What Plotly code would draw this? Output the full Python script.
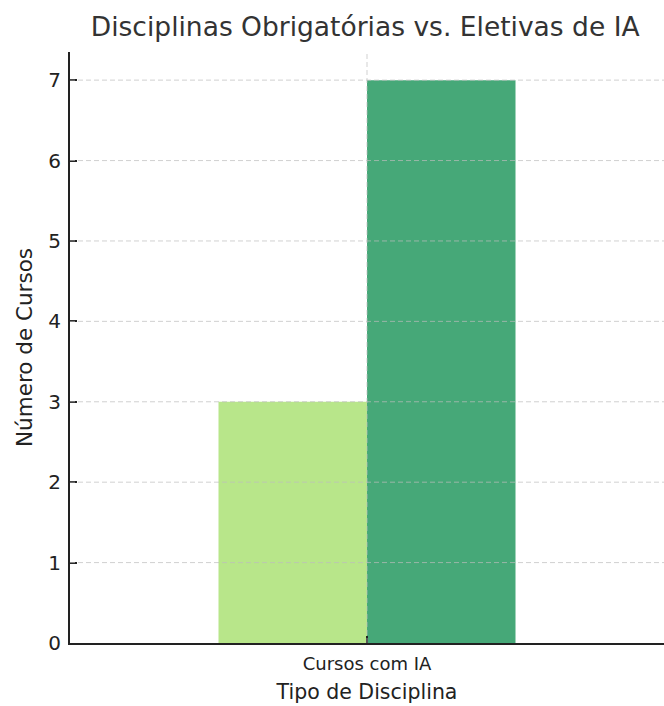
import plotly.graph_objects as go

# Data
categories = ["Cursos com IA"]
series_names = ["Obrigatórias", "Eletivas"]
obrigatorias = [3]
eletivas = [7]
y_ticks = [0, 1, 2, 3, 4, 5, 6, 7]

colors = ["#b8e68a", "#46a878"]
bar_width = 0.35
positions = list(range(len(categories)))

fig = go.Figure()
fig.add_trace(go.Bar(
    x=positions, y=obrigatorias, name=series_names[0],
    width=bar_width, offset=-bar_width, marker=dict(color=colors[0], line=dict(width=0)),
))
fig.add_trace(go.Bar(
    x=positions, y=eletivas, name=series_names[1],
    width=bar_width, offset=0, marker=dict(color=colors[1], line=dict(width=0)),
))

grid_style = dict(color="rgba(190,190,190,0.7)", width=1, dash="5px,3px")
shapes = []
# dashed grid drawn over the bars
for t in y_ticks[1:]:
    shapes.append(dict(type="line", xref="paper", yref="y", x0=0, x1=1, y0=t, y1=t,
                       line=grid_style, layer="above"))
for p in positions:
    shapes.append(dict(type="line", xref="x", yref="paper", x0=p, x1=p, y0=0, y1=1,
                       line=grid_style, layer="above"))

fig.update_layout(
    width=664, height=706,
    margin=dict(l=70, r=0, t=52, b=63),
    paper_bgcolor="white", plot_bgcolor="white",
    font=dict(family="DejaVu Sans", color="#222222"),
    showlegend=False,
    barmode="overlay",
    title=dict(text="Disciplinas Obrigatórias vs. Eletivas de IA",
               x=0.55, xanchor="center", y=0.962, yanchor="middle",
               font=dict(size=26.5, color="#333333")),
    shapes=shapes,
)
fig.update_xaxes(
    range=[-0.7, 0.7], tickvals=positions, ticktext=categories,
    showgrid=False, zeroline=False,
    showline=True, linecolor="#222222", linewidth=2,
    ticks="inside", ticklen=7, tickwidth=1.5, tickcolor="#222222",
    tickfont=dict(size=18), layer="above traces", ticklabelstandoff=3,
    title=dict(text="Tipo de Disciplina", font=dict(size=20.5), standoff=12),
)
fig.update_yaxes(
    range=[0, 7.35], tickvals=y_ticks,
    showgrid=False, zeroline=False,
    showline=True, linecolor="#222222", linewidth=2,
    ticks="inside", ticklen=7, tickwidth=1.5, tickcolor="#222222",
    tickfont=dict(size=20), layer="above traces", ticklabelstandoff=3,
    title=dict(text="Número de Cursos", font=dict(size=21.5), standoff=10),
)

fig.write_html("out.html")
